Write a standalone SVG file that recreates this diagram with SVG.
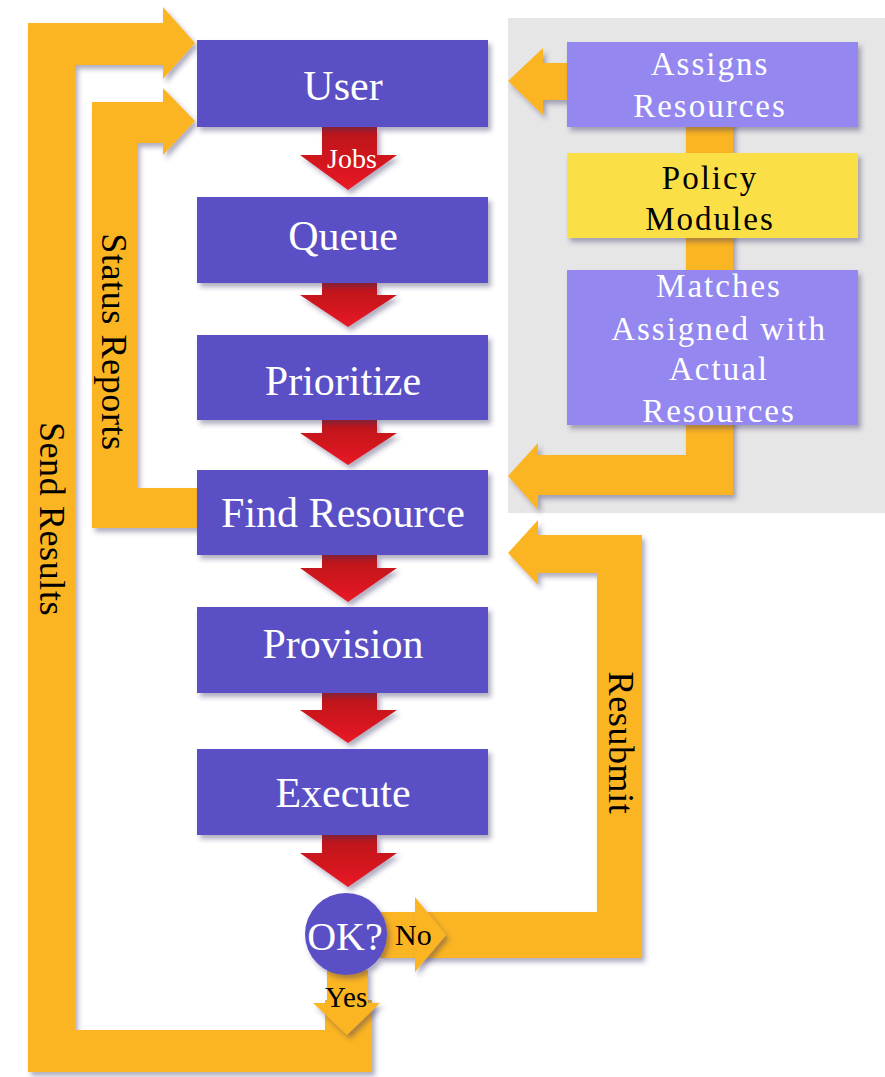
<svg xmlns="http://www.w3.org/2000/svg" width="885" height="1077" viewBox="0 0 885 1077">
<defs>
<filter id="sh" x="-10%" y="-10%" width="130%" height="140%">
<feDropShadow dx="3" dy="4" stdDeviation="2.5" flood-color="#3a3060" flood-opacity="0.4"/>
</filter>
<linearGradient id="red" x1="0" y1="0" x2="0" y2="1">
<stop offset="0" stop-color="#b8161c"/>
<stop offset="1" stop-color="#e81a22"/>
</linearGradient>
<style>
.box{fill:#5a50c4;filter:url(#sh)}
.lbox{fill:#9488f0;filter:url(#sh)}
.ybox{fill:#fadf46;filter:url(#sh)}
.band{fill:#fbb522;filter:url(#sh)}
.red{fill:url(#red);filter:url(#sh)}
.t{font-family:"Liberation Serif","Times New Roman",serif;font-size:42px;fill:#fff;text-anchor:middle}
.pt{font-family:"Liberation Serif","Times New Roman",serif;font-size:33px;letter-spacing:2px;fill:#fff;text-anchor:middle}
.lab{font-family:"Liberation Serif","Times New Roman",serif;font-size:36px;letter-spacing:0.6px;fill:#000;text-anchor:middle}
.sm{font-family:"Liberation Serif","Times New Roman",serif;fill:#000}
</style>
</defs>
<rect width="885" height="1077" fill="#fff"/>
<rect id="panel" x="508" y="18" width="377" height="495" fill="#e6e6e6"/>

<g id="connectors">
<path id="send-results" class="band" d="M195,43 L163,7 V23 H28 V1072 H372 V1000 H325 V1030 H75 V65 H163 V79 Z"/>
<path id="status-reports" class="band" d="M195,121 L163,88 V102 H92 V528 H200 V488 H137 V143 H163 V155 Z"/>
<path id="assign-arrow" class="band" d="M572,63 H543 V48 L508,81 L543,115 V100 H572 Z"/>
<path id="match-arrow" class="band" d="M686,100 H733 V495 H538 V510 L508,476 L538,443 V455 H686 Z"/>
<path id="resubmit" class="band" d="M380,912 H597 V573 H538 V585 L508,553 L538,520 V535 H642 V958 H380 Z"/>
<path id="no-arrow" class="band" d="M415,897 L446,935 L415,972 Z"/>
<path id="yes-arrow" class="band" d="M327,970 H368 V1003 H380 L347,1035 L313,1003 H327 Z"/>
<path class="red" d="M322,127 H377 V155 H397 L348,190 L300,155 H322 Z"/>
<path class="red" d="M322,283 H377 V295 H397 L348,327 L300,295 H322 Z"/>
<path class="red" d="M322,420 H377 V433 H397 L348,465 L300,433 H322 Z"/>
<path class="red" d="M322,555 H377 V568 H397 L348,602 L300,568 H322 Z"/>
<path class="red" d="M322,693 H377 V710 H397 L348,743 L300,710 H322 Z"/>
<path class="red" d="M322,835 H377 V853 H397 L348,887 L300,853 H322 Z"/>
<text class="sm" x="352" y="168" font-size="28" fill="#fff" text-anchor="middle" style="fill:#fff">Jobs</text>
<text class="lab" transform="translate(52,519) rotate(90)" x="0" y="12">Send Results</text>
<text class="lab" transform="translate(114,342) rotate(90)" x="0" y="12">Status Reports</text>
<text class="lab" transform="translate(621,743) rotate(90)" x="0" y="12">Resubmit</text>
<text class="sm" x="395" y="945" font-size="30">No</text>
<text class="sm" x="325" y="1007" font-size="29">Yes</text>
</g>

<g id="user"><rect class="box" x="197" y="40" width="291" height="87"/><text class="t" x="343" y="100">User</text></g>
<g id="queue"><rect class="box" x="197" y="197" width="291" height="86"/><text class="t" x="343" y="250">Queue</text></g>
<g id="prioritize"><rect class="box" x="197" y="335" width="291" height="85"/><text class="t" x="343" y="395">Prioritize</text></g>
<g id="find-resource"><rect class="box" x="197" y="470" width="291" height="85"/><text class="t" x="343" y="527">Find Resource</text></g>
<g id="provision"><rect class="box" x="197" y="607" width="291" height="86"/><text class="t" x="343" y="658">Provision</text></g>
<g id="execute"><rect class="box" x="197" y="749" width="291" height="86"/><text class="t" x="343" y="807">Execute</text></g>
<g id="ok"><circle cx="346" cy="934" r="41" fill="#5a50c4" filter="url(#sh)"/><text class="t" x="345" y="950" style="font-size:40px">OK?</text></g>

<g id="assigns"><rect class="lbox" x="567" y="42" width="291" height="85"/><text class="pt" x="710" y="75">Assigns</text><text class="pt" x="710" y="117">Resources</text></g>
<g id="policy"><rect class="ybox" x="567" y="153" width="291" height="85"/><text class="pt" x="710" y="189" style="fill:#000">Policy</text><text class="pt" x="710" y="230" style="fill:#000">Modules</text></g>
<g id="matches"><rect class="lbox" x="567" y="270" width="291" height="155"/><text class="pt" x="719" y="297">Matches</text><text class="pt" x="719" y="340">Assigned with</text><text class="pt" x="719" y="380">Actual</text><text class="pt" x="719" y="422">Resources</text></g>
</svg>
